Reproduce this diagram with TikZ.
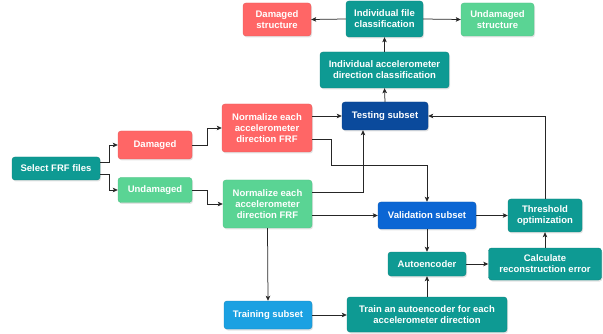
\documentclass[tikz,border=0pt]{standalone}
\usepackage{fontspec}
\setmainfont{Liberation Sans}
\usetikzlibrary{arrows.meta,shadows,calc}
\definecolor{cteal}{HTML}{0E9A93}
\definecolor{cred}{HTML}{FF6666}
\definecolor{cgreen}{HTML}{5AD494}
\definecolor{cnavy}{HTML}{0A4A9C}
\definecolor{cblue}{HTML}{0B66D4}
\definecolor{clight}{HTML}{1BA1E2}
\definecolor{cline}{HTML}{262626}
\tikzset{
  box/.style={rounded corners=3pt, align=center, text=white, inner sep=0pt,
    font=\fontsize{9.5}{11}\selectfont\bfseries,
    drop shadow={opacity=0.22, shadow xshift=1pt, shadow yshift=-1.5pt}},
  tealbox/.style={box, fill=cteal, draw=cteal!85!black, line width=0.4pt},
  redbox/.style={box, fill=cred, draw=cred!90!black, line width=0.4pt},
  greenbox/.style={box, fill=cgreen, draw=cgreen!90!black, line width=0.4pt},
  navybox/.style={box, fill=cnavy, draw=cnavy!85!black, line width=0.4pt},
  bluebox/.style={box, fill=cblue, draw=cblue!85!black, line width=0.4pt},
  lightbox/.style={box, fill=clight, draw=clight!85!black, line width=0.4pt},
  sz/.style n args={2}{minimum width=#1pt, minimum height=#2pt},
  arr/.style={draw=cline, line width=0.75pt, -{Stealth[length=5pt,width=4.5pt,inset=1.2pt]}}
}
\begin{document}
\begin{tikzpicture}[x=1pt,y=-1pt]
\useasboundingbox (0,0) rectangle (603,334);
\node[redbox,sz={68}{33}] (dstruct) at (277,19.5) {Damaged\\structure};
\node[tealbox,sz={77}{36}] (ifile) at (384.5,19) {Individual file\\classification};
\node[greenbox,sz={73}{33}] (ustruct) at (497.5,19.5) {Undamaged\\structure};
\node[tealbox,sz={129}{36}] (iacc) at (384.5,70) {Individual accelerometer\\direction classification};
\node[navybox,sz={86}{28}] (test) at (385,116) {Testing subset};
\node[redbox,sz={90}{48}] (normD) at (267,128) {Normalize each\\accelerometer\\direction FRF};
\node[redbox,sz={74}{28}] (dam) at (155,145) {Damaged};
\node[tealbox,sz={88}{23}] (sel) at (56,168.5) {Select FRF files};
\node[greenbox,sz={74}{25}] (und) at (155,190) {Undamaged};
\node[greenbox,sz={89}{48}] (normU) at (267.5,204) {Normalize each\\accelerometer\\direction FRF};
\node[bluebox,sz={98}{27}] (val) at (427,215.5) {Validation subset};
\node[tealbox,sz={74}{33}] (thr) at (545,215.5) {Threshold\\optimization};
\node[tealbox,sz={78}{24}] (ae) at (427,264) {Autoencoder};
\node[tealbox,sz={113}{32}] (calc) at (545,264) {Calculate\\reconstruction error};
\node[lightbox,sz={88}{28}] (train) at (268,315) {Training subset};
\node[tealbox,sz={160}{35}] (tae) at (427,314.5) {Train an autoencoder for each\\accelerometer direction};

\draw[arr] (sel.east|-0,162) -- (109,162) |- (dam.west);
\draw[arr] (sel.east|-0,174) -- (109,174) |- (und.west);
\draw[arr] (dam.east) -- (207,145) |- (normD.west);
\draw[arr] (und.east) -- (207,190) |- (normU.west);
\draw[arr] (normD.east|-test.west) -- (test.west);
\draw[arr] (normD.east|-0,139) -| (331,165) -| (val.north);
\draw[arr] (normU.east|-0,192) -| (test.south-|363,0);
\draw[arr] (normU.east|-val.west) -- (val.west);
\draw[arr] (normU.south) -- (train.north);
\draw[arr] (train.east) -- (tae.west|-train.east);
\draw[arr] (tae.north) -- (ae.south);
\draw[arr] (val.south) -- (ae.north);
\draw[arr] (ae.east) -- (calc.west|-ae.east);
\draw[arr] (calc.north) -- (thr.south);
\draw[arr] (val.east) -- (thr.west);
\draw[arr] (thr.north) |- (test.east);
\draw[arr] (test.north) -- (iacc.south);
\draw[arr] (iacc.north) -- (ifile.south);
\draw[arr] (ifile.west) -- (dstruct.east);
\draw[arr] (ifile.east) -- (ustruct.west);
\end{tikzpicture}
\end{document}
